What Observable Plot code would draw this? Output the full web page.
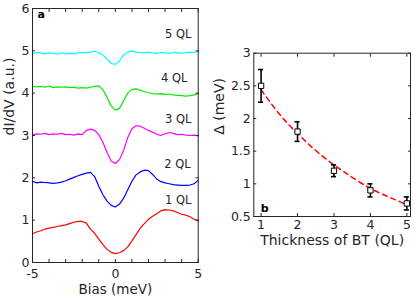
<!DOCTYPE html>
<html><head><meta charset="utf-8">
<script src="https://cdn.jsdelivr.net/npm/d3@7"></script>
<script src="https://cdn.jsdelivr.net/npm/@observablehq/plot@0.6"></script>
<style>
body{margin:0;background:#fff;}
#wrap{position:relative;width:415px;height:305px;overflow:hidden;background:#fff;}
#pa{position:absolute;left:0;top:0;}
#pb{position:absolute;left:210px;top:0;}
</style></head><body><div id="wrap"><div id="pa"></div><div id="pb"></div></div>
<script>
// ---- Panel a: dI/dV spectra ----
const bias = [-5,-4.75,-4.5,-4.25,-4,-3.75,-3.5,-3.25,-3,-2.75,-2.5,-2.25,-2,-1.75,-1.5,-1.25,-1,-0.75,-0.5,-0.25,0,0.25,0.5,0.75,1,1.25,1.5,1.75,2,2.25,2.5,2.75,3,3.25,3.5,3.75,4,4.25,4.5,4.75,5];
const ql5 = [4.94,4.96,4.95,4.93,4.95,4.94,4.92,4.95,4.93,4.94,4.93,4.95,4.96,4.95,4.97,4.99,4.96,4.90,4.80,4.70,4.68,4.76,4.90,4.97,5.00,4.97,4.96,4.95,4.97,4.95,4.94,4.96,4.95,4.94,4.96,4.95,4.94,4.96,4.97,4.96,4.99];
const ql4 = [4.16,4.15,4.16,4.14,4.17,4.13,4.15,4.14,4.15,4.13,4.14,4.12,4.13,4.12,4.14,4.16,4.17,4.08,3.90,3.70,3.60,3.64,3.82,4.00,4.09,4.10,4.07,4.04,4.01,3.99,3.98,3.99,3.97,3.98,3.96,3.95,3.94,3.93,3.94,3.96,3.99];
const ql3 = [3.02,3.04,3.03,3.05,3.02,3.04,3.03,3.05,3.02,3.03,3.01,3.04,3.02,3.12,3.15,3.12,3.02,2.84,2.60,2.40,2.34,2.43,2.65,2.95,3.16,3.23,3.22,3.17,3.12,3.08,3.03,3.00,3.04,3.07,3.05,3.02,3.03,3.01,3.00,3.01,2.99];
const ql2 = [1.92,1.88,1.90,1.89,1.88,1.87,1.88,1.90,1.93,1.97,2.01,2.05,2.08,2.11,2.13,2.03,1.80,1.60,1.45,1.35,1.31,1.38,1.52,1.72,1.92,2.07,2.14,2.18,2.17,2.08,1.97,1.91,1.88,1.86,1.84,1.83,1.82,1.82,1.83,1.86,1.94];
const ql1 = [0.68,0.72,0.75,0.79,0.81,0.83,0.85,0.87,0.89,0.92,0.95,0.97,0.97,0.93,0.79,0.69,0.55,0.42,0.31,0.24,0.21,0.23,0.28,0.37,0.51,0.66,0.81,0.92,1.02,1.09,1.15,1.22,1.25,1.24,1.22,1.18,1.14,1.12,1.08,1.02,0.99];
const seriesNames = ["1 QL","2 QL","3 QL","4 QL","5 QL"];
const seriesColors = ["#ff0000","#0000ff","#ff00ff","#00ee00","#00ffff"];
const labelX = [3.8,3.75,3.8,3.55,3.8];
const labelY = [1.47,2.32,3.38,4.35,5.39];
const biasTicks = [-5,-4,-3,-2,-1,0,1,2,3,4,5];
const biasTickLabels = [-5,0,5];
const didvTicks = [0,1,2,3,4,5,6];

// ---- Panel b: gap vs thickness ----
const thickness = [1,2,3,4,5];
const gap = [2.5,1.8,1.2,0.9,0.7];
const gapErr = [0.25,0.15,0.09,0.1,0.1];
const fitX = [1,1.5,2,2.5,3,3.5,4,4.5,5];
const fitY = [2.44,2.07,1.77,1.51,1.29,1.10,0.93,0.80,0.68];
const thickTicks = [1,2,3,4,5];
const gapTicks = [0.5,1,1.5,2,2.5,3];

const ink = "#262626";
const font = "DejaVu Sans";

const curves = [ql1, ql2, ql3, ql4, ql5];
const rows = [];
curves.forEach((arr, i) => arr.forEach((v, j) => rows.push({bias: bias[j], v, s: seriesNames[i]})));
const labelRows = seriesNames.map((n, i) => ({n, x: labelX[i], y: labelY[i]}));

const pa = Plot.plot({
  width: 210, height: 305,
  marginLeft: 32, marginRight: 12.3, marginTop: 8, marginBottom: 43,
  style: {fontFamily: font, fontSize: "13px", color: ink, background: "transparent"},
  x: {domain: [-5, 5]},
  y: {domain: [0, 6]},
  color: {domain: seriesNames, range: seriesColors},
  marks: [
    Plot.line(rows, {x: "bias", y: "v", z: "s", stroke: "s", strokeWidth: 1.2}),
    Plot.text(labelRows, {x: "x", y: "y", text: "n", fontSize: 11.5, fill: ink}),
    Plot.text(["a"], {frameAnchor: "top-left", dx: 5, dy: 2, lineAnchor: "top", textAnchor: "start", fontWeight: "bold", fontSize: 11, fill: "#000"}),
    Plot.frame({stroke: ink, strokeWidth: 1}),
    Plot.axisX({anchor: "bottom", ticks: biasTicks, tickSize: -3, text: null, label: null}),
    Plot.axisX({anchor: "bottom", ticks: biasTickLabels, tickSize: 0, tickPadding: 7, label: null,
      tickFormat: d => String(d), fontSize: 12.5}),
    Plot.axisX({anchor: "top", ticks: biasTicks, tickSize: -3, text: null, label: null}),
    Plot.axisY({anchor: "left", ticks: didvTicks, tickSize: -3, tickPadding: 6, label: null,
      tickFormat: d => String(d), fontSize: 12.5}),
    Plot.axisY({anchor: "right", ticks: didvTicks, tickSize: -3, text: null, label: null}),
    Plot.text(["dI/dV (a.u.)"], {frameAnchor: "left", dx: -23, rotate: -90, fontSize: 14, fill: ink}),
    Plot.text(["Bias (meV)"], {frameAnchor: "bottom", dy: 31, fontSize: 13.5, fill: ink})
  ]
});
document.getElementById("pa").appendChild(pa);

const pts = thickness.map((t, i) => ({t, g: gap[i], lo: gap[i] - gapErr[i], hi: gap[i] + gapErr[i]}));
const fit = fitX.map((x, i) => ({x, y: fitY[i]}));

const pb = Plot.plot({
  width: 205, height: 305,
  marginLeft: 43.3, marginRight: 5, marginTop: 52.7, marginBottom: 89,
  style: {fontFamily: font, fontSize: "13px", color: ink, background: "transparent"},
  x: {domain: [0.8, 5.1]},
  y: {domain: [0.5, 3]},
  marks: [
    Plot.line(fit, {x: "x", y: "y", stroke: "#ff0000", strokeWidth: 1.5, strokeDasharray: "5,4", curve: "natural"}),
    Plot.ruleX(pts, {x: "t", y1: "lo", y2: "hi", stroke: "#000", strokeWidth: 1.6}),
    Plot.ruleY(pts, {y: "lo", x1: d => d.t - 0.07, x2: d => d.t + 0.07, stroke: "#000", strokeWidth: 1.6}),
    Plot.ruleY(pts, {y: "hi", x1: d => d.t - 0.07, x2: d => d.t + 0.07, stroke: "#000", strokeWidth: 1.6}),
    Plot.dot(pts, {x: "t", y: "g", symbol: "square", r: 3, fill: "#fff", stroke: "#000", strokeWidth: 1}),
    Plot.text(["b"], {frameAnchor: "bottom-left", dx: 7, dy: -5, lineAnchor: "bottom", textAnchor: "start", fontWeight: "bold", fontSize: 11, fill: "#000"}),
    Plot.frame({stroke: ink, strokeWidth: 1}),
    Plot.axisX({anchor: "bottom", ticks: thickTicks, tickSize: -3, tickPadding: 7, label: null,
      tickFormat: d => String(d), fontSize: 12.5}),
    Plot.axisX({anchor: "top", ticks: thickTicks, tickSize: -3, text: null, label: null}),
    Plot.axisY({anchor: "left", ticks: gapTicks, tickSize: -3, tickPadding: 6, label: null,
      tickFormat: d => String(d), fontSize: 12.5}),
    Plot.axisY({anchor: "right", ticks: gapTicks, tickSize: -3, text: null, label: null}),
    Plot.text(["Δ (meV)"], {frameAnchor: "left", dx: -34, rotate: -90, fontSize: 14, fill: ink}),
    Plot.text(["Thickness of BT (QL)"], {frameAnchor: "bottom", dy: 28, fontSize: 14, fill: ink})
  ]
});
document.getElementById("pb").appendChild(pb);
</script>
</body></html>
